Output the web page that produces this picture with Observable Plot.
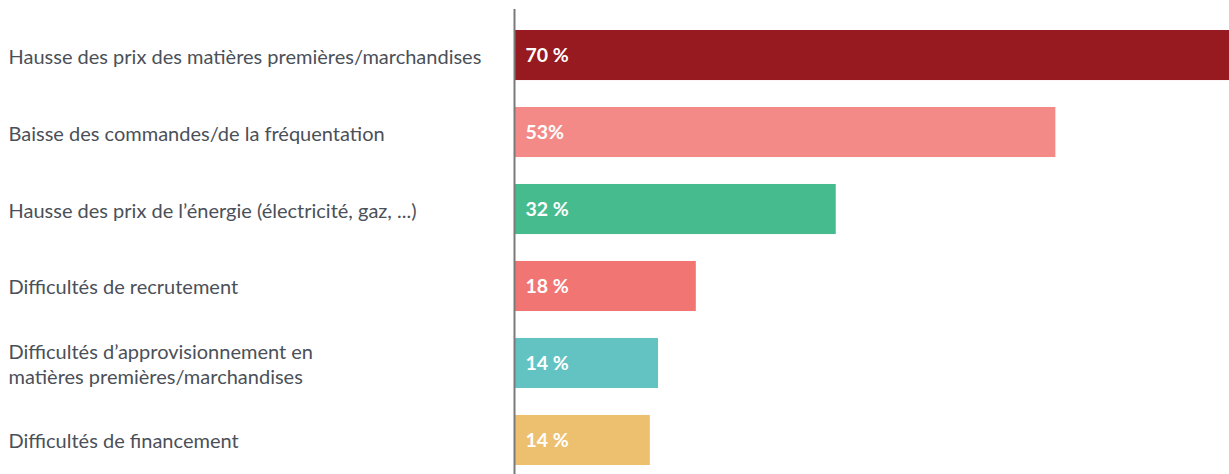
<!DOCTYPE html>
<html>
<head>
<meta charset="utf-8">
<script src="https://cdn.jsdelivr.net/npm/d3@7"></script>
<script src="https://cdn.jsdelivr.net/npm/@observablehq/plot@0.6"></script>
<style>
  html, body { margin: 0; padding: 0; background: #fff; }
  #chart { width: 1229px; height: 474px; }
</style>
</head>
<body>
<div id="chart"></div>
<script>
const categories = [
  "Hausse des prix des matières premières/marchandises",
  "Baisse des commandes/de la fréquentation",
  "Hausse des prix de l’énergie (électricité, gaz, ...)",
  "Difficultés de recrutement",
  "Difficultés d’approvisionnement en\nmatières premières/marchandises",
  "Difficultés de financement"
];
const values = [70, 53, 31.5, 17.8, 14.1, 13.3];
const valueLabels = ["70 %", "53%", "32 %", "18 %", "14 %", "14 %"];
const colors = ["#961A1F", "#F48A87", "#46BC8E", "#F17673", "#63C2C2", "#EDC070"];

const data = categories.map((c, i) => ({cat: c, value: values[i], label: valueLabels[i], color: colors[i]}));

const chart = Plot.plot({
  width: 1229,
  height: 474,
  marginLeft: 514,
  marginRight: 0,
  marginTop: 9,
  marginBottom: 0,
  style: {fontFamily: "Lato, sans-serif", background: "#fff"},
  x: {domain: [0, 70], axis: null},
  y: {domain: categories, range: [30, 465], paddingInner: 0.35, paddingOuter: 0, round: false, axis: null},
  marks: [
    Plot.barX(data, {y: "cat", x: "value", fill: "color"}),
    Plot.ruleX([0], {stroke: "#7a7a7a", strokeWidth: 2}),
    Plot.text(data, {
      y: "cat", x: 0, text: "cat", textAnchor: "start", dx: -506,
      fill: "#4B5058", fontSize: 20, lineHeight: 1.25
    }),
    Plot.text(data, {
      y: "cat", x: 0, text: "label", textAnchor: "start", dx: 11,
      fill: "#ffffff", fontSize: 19.5, fontWeight: "bold"
    })
  ]
});
document.getElementById("chart").appendChild(chart);
</script>
</body>
</html>
